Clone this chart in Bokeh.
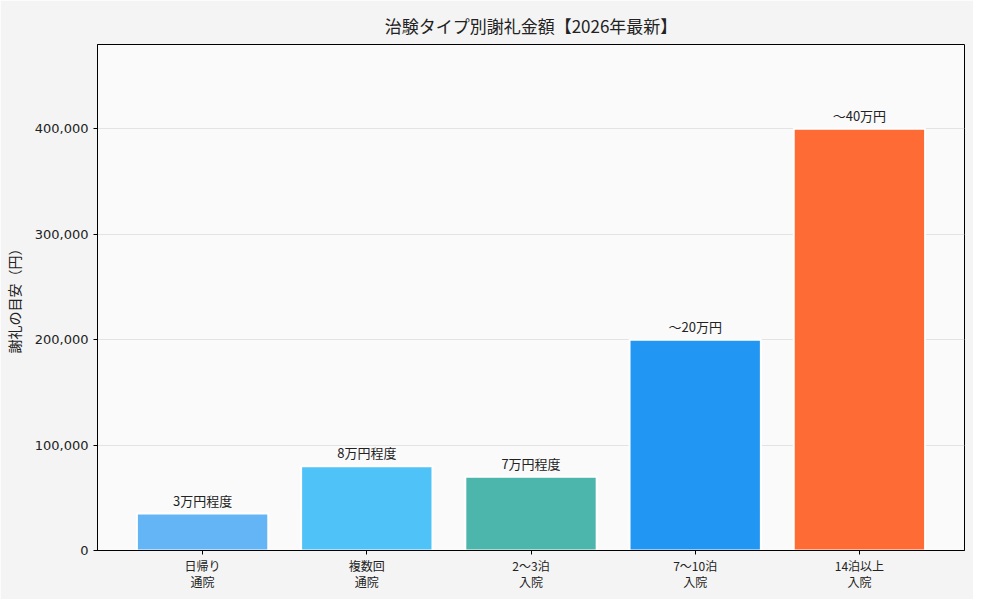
from bokeh.plotting import figure
from bokeh.models import ColumnDataSource, FixedTicker, NumeralTickFormatter, Range1d
from bokeh.embed import file_html
from bokeh.resources import INLINE
from bokeh.core.properties import value

categories = ["日帰り\n通院", "複数回\n通院", "2〜3泊\n入院", "7〜10泊\n入院", "14泊以上\n入院"]
amounts = [35000, 80000, 70000, 200000, 400000]
bar_labels = ["3万円程度", "8万円程度", "7万円程度", "〜20万円", "〜40万円"]
colors = ["#64B5F6", "#4FC3F7", "#4DB6AC", "#2196F3", "#FF6B35"]
y_ticks = [0, 100000, 200000, 300000, 400000]

xs = list(range(len(categories)))
src = ColumnDataSource(dict(x=xs, top=amounts, label=bar_labels, color=colors))

JP = "Noto Sans CJK JP"

p = figure(width=973, height=599, output_backend="svg", toolbar_location=None,
           x_range=Range1d(-0.64, 4.64), y_range=Range1d(0, 480000),
           min_border_left=96, min_border_right=9, min_border_top=44, min_border_bottom=49,
           title="治験タイプ別謝礼金額【2026年最新】")

p.background_fill_color = "#fafafa"
p.border_fill_color = "#f4f4f4"
p.outline_line_color = "black"
p.outline_line_width = 1

p.title.align = "center"
p.title.text_font = JP
p.title.text_font_size = "17px"
p.title.text_font_style = "normal"
p.title.text_color = "#222222"
p.title.standoff = 14

p.vbar(x="x", top="top", width=0.8, bottom=0, source=src, fill_color="color",
       line_color="white", line_width=2)

p.text(x="x", y="top", text="label", source=src, text_align="center", text_baseline="bottom",
       y_offset=-4, text_font=value(JP), text_font_size="13px", text_color="#222222")

p.xaxis.ticker = FixedTicker(ticks=xs)
p.xaxis.major_label_overrides = {i: c for i, c in enumerate(categories)}
p.xaxis.major_label_text_font = JP
p.xaxis.major_label_text_font_size = "12px"
p.xaxis.major_label_text_color = "#222222"
p.xaxis.major_label_text_line_height = 0.95
p.xaxis.major_label_standoff = 2

p.yaxis.ticker = FixedTicker(ticks=y_ticks)
p.yaxis.formatter = NumeralTickFormatter(format="0,0")
p.yaxis.major_label_text_font = "DejaVu Sans"
p.yaxis.major_label_text_font_size = "13px"
p.yaxis.major_label_text_color = "#222222"
p.yaxis.major_label_standoff = 5
p.yaxis.axis_label = "謝礼の目安（円）"
p.yaxis.axis_label_text_font = JP
p.yaxis.axis_label_text_font_size = "14px"
p.yaxis.axis_label_text_font_style = "normal"
p.yaxis.axis_label_text_color = "#222222"
p.yaxis.axis_label_standoff = 8

for ax in (p.xaxis, p.yaxis):
    ax.axis_line_color = "black"
    ax.major_tick_line_color = "black"
    ax.major_tick_out = 4
    ax.major_tick_in = 0
    ax.minor_tick_line_color = None

p.xgrid.grid_line_color = None
p.ygrid.grid_line_color = "#e3e3e3"
p.ygrid.grid_line_width = 1

open("out.html", "w").write(file_html(p, INLINE))
